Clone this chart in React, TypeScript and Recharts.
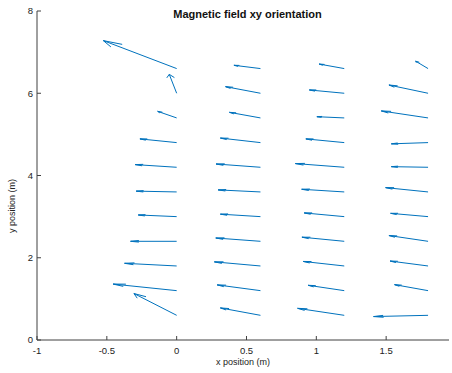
import React from 'react';
import { ScatterChart, Scatter, XAxis, YAxis, ReferenceLine } from 'recharts';

// grid of arrow tails
const xPositions = [0, 0.6, 1.2, 1.8];
const yPositions = [0.6, 1.2, 1.8, 2.4, 3.0, 3.6, 4.2, 4.8, 5.4, 6.0, 6.6];

// field components, one row per x column, bottom to top
const uValues = [
  [-0.306, -0.455, -0.373, -0.33, -0.275, -0.29, -0.297, -0.263, -0.136, -0.053, -0.525],
  [-0.287, -0.31, -0.33, -0.32, -0.287, -0.303, -0.318, -0.287, -0.222, -0.25, -0.19],
  [-0.334, -0.258, -0.294, -0.303, -0.287, -0.305, -0.35, -0.275, -0.196, -0.25, -0.18],
  [-0.39, -0.24, -0.272, -0.28, -0.268, -0.304, -0.263, -0.263, -0.335, -0.28, -0.089],
];
const vValues = [
  [0.53, 0.16, 0.065, 0.0, 0.04, 0.02, 0.065, 0.09, 0.16, 0.46, 0.68],
  [0.18, 0.14, 0.1, 0.08, 0.06, 0.05, 0.08, 0.11, 0.136, 0.16, 0.08],
  [0.17, 0.13, 0.11, 0.1, 0.09, 0.065, 0.09, 0.09, 0.03, 0.08, 0.11],
  [-0.03, 0.146, 0.12, 0.14, 0.08, 0.105, 0.015, -0.03, 0.17, 0.2, 0.18],
];

const xTicks = [-1, -0.5, 0, 0.5, 1, 1.5];
const yTicks = [0, 2, 4, 6, 8];

const BLUE = '#0072BD';
const AXIS = '#404040';
const FONT = '"Liberation Sans", Arial, sans-serif';

// quiver-style head (data units)
const ALPHA = 0.18;
const BETA = 0.33;

const arrows = xPositions.flatMap((x, i) =>
  yPositions.map((y, j) => {
    const u = uValues[i][j];
    const v = vValues[i][j];
    const tx = x + u;
    const ty = y + v;
    return {
      x,
      y,
      tx,
      ty,
      b1: { x: tx - ALPHA * (u + BETA * v), y: ty - ALPHA * (v - BETA * u) },
      b2: { x: tx - ALPHA * (u - BETA * v), y: ty - ALPHA * (v + BETA * u) },
    };
  })
);

const XTick = ({ x, y, payload }: any) => (
  <g>
    <line x1={x} x2={x} y1={y} y2={y - 4} stroke={AXIS} />
    <text x={x} y={y + 14} textAnchor="middle" fontSize={9.5} fill="#222" fontFamily={FONT}>
      {payload.value}
    </text>
  </g>
);

const YTick = ({ x, y, payload }: any) => (
  <g>
    <line x1={x} x2={x + 4} y1={y} y2={y} stroke={AXIS} />
    <text x={x - 4} y={y} dy="0.35em" textAnchor="end" fontSize={9.5} fill="#222" fontFamily={FONT}>
      {payload.value}
    </text>
  </g>
);

export default function App() {
  return (
    <div style={{ position: 'absolute', left: 0, top: 0, width: 452, height: 373, background: '#fff' }}>
      <div
        style={{
          position: 'absolute',
          left: 0,
          width: 495,
          top: 8,
          textAlign: 'center',
          fontFamily: FONT,
          fontWeight: 'bold',
          fontSize: 11,
          color: '#111',
        }}
      >
        Magnetic field xy orientation
      </div>
      <ScatterChart width={452} height={373} margin={{ top: 11, right: 3, bottom: 0, left: 0 }}>
        <XAxis
          type="number"
          dataKey="x"
          domain={[-1, 1.95]}
          ticks={xTicks}
          allowDataOverflow
          height={33}
          tickSize={0}
          tickMargin={0}
          tick={<XTick />}
          axisLine={{ stroke: AXIS }}
          tickLine={false}
          label={{ value: 'x position (m)', position: 'insideBottom', offset: 8, fontSize: 9, fill: '#222', fontFamily: FONT }}
        />
        <YAxis
          type="number"
          dataKey="y"
          domain={[0, 8]}
          ticks={yTicks}
          allowDataOverflow
          width={37}
          tickSize={0}
          tickMargin={0}
          tick={<YTick />}
          axisLine={{ stroke: AXIS }}
          tickLine={false}
          label={{
            content: () => (
              <text
                x={13}
                y={206}
                transform="rotate(-90 13 206)"
                textAnchor="middle"
                dominantBaseline="middle"
                fontSize={9}
                fill="#222"
                fontFamily={FONT}
              >
                y position (m)
              </text>
            ),
          }}
        />
        <Scatter data={arrows} isAnimationActive={false} shape={() => <g />} />
        {arrows.map((a, k) => (
          <ReferenceLine
            key={`s${k}`}
            segment={[{ x: a.x, y: a.y }, { x: a.tx, y: a.ty }]}
            stroke={BLUE}
            strokeWidth={1}
            ifOverflow="visible"
          />
        ))}
        {arrows.map((a, k) => (
          <ReferenceLine
            key={`h1${k}`}
            segment={[a.b1, { x: a.tx, y: a.ty }]}
            stroke={BLUE}
            strokeWidth={1}
            ifOverflow="visible"
          />
        ))}
        {arrows.map((a, k) => (
          <ReferenceLine
            key={`h2${k}`}
            segment={[a.b2, { x: a.tx, y: a.ty }]}
            stroke={BLUE}
            strokeWidth={1}
            ifOverflow="visible"
          />
        ))}
      </ScatterChart>
    </div>
  );
}
